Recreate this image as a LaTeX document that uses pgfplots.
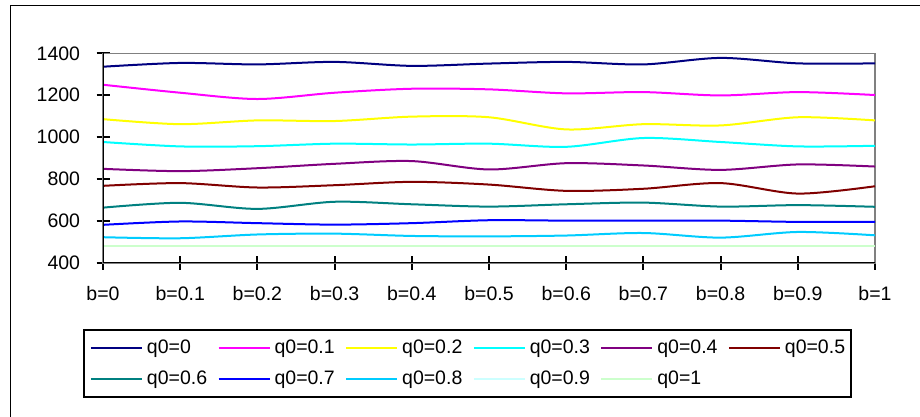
\documentclass[border=0pt]{standalone}
\usepackage{fontspec}
\setmainfont{Liberation Sans}
\usepackage{pgfplots}
\usepackage{pgfplotstable}
\pgfplotsset{compat=1.18}
\definecolor{c0}{HTML}{000080}
\definecolor{c1}{HTML}{FF00FF}
\definecolor{c2}{HTML}{FFFF00}
\definecolor{c3}{HTML}{00FFFF}
\definecolor{c4}{HTML}{800080}
\definecolor{c5}{HTML}{800000}
\definecolor{c6}{HTML}{008080}
\definecolor{c7}{HTML}{0000FF}
\definecolor{c8}{HTML}{00CCFF}
\definecolor{c9}{HTML}{CCFFFF}
\definecolor{c10}{HTML}{CCFFCC}
\definecolor{axgray}{HTML}{808080}
\pgfplotstableread{
x  a    b    c    d   e   f   g   h   i   j   k
0  1336 1250 1086 977 849 768 664 582 523 480 480
1  1354 1212 1062 956 838 781 687 598 518 480 480
2  1347 1182 1080 957 852 760 658 590 536 480 480
3  1359 1212 1077 969 873 771 692 583 540 480 480
4  1340 1231 1098 965 886 787 680 590 529 480 480
5  1351 1228 1095 969 846 774 669 604 527 480 480
6  1359 1209 1037 954 876 744 680 602 531 480 480
7  1347 1215 1062 996 865 754 688 602 543 480 480
8  1378 1199 1056 977 844 781 669 602 521 480 480
9  1352 1215 1095 956 870 731 676 596 548 480 480
10 1352 1201 1080 959 860 766 668 596 532 480 480
}\data
\begin{document}
\begin{tikzpicture}
\useasboundingbox (0,0) rectangle (460pt,208.5pt);
\draw[line width=0.75pt] (5.25pt,0) -- (5.25pt,205.75pt) -- (460pt,205.75pt);
\begin{axis}[
  at={(51.5pt,77pt)}, anchor=south west,
  scale only axis, width=386pt, height=104.85pt,
  xmin=0, xmax=10, ymin=400, ymax=1400,
  xtick={0,...,10},
  xticklabels={b=0,b=0.1,b=0.2,b=0.3,b=0.4,b=0.5,b=0.6,b=0.7,b=0.8,b=0.9,b=1},
  ytick={400,600,...,1400},
  tick pos=left, tick align=center, major tick length=6.5pt,
  axis line style={draw=axgray, line width=0.75pt},
  tick style={black, line width=1pt},
  font=\fontsize{9.75}{11.7}\selectfont,
  /pgf/number format/assume math mode=true,
  /pgf/number format/1000 sep={},
  yticklabel style={inner sep=0pt}, yticklabel shift=8pt,
  xticklabel style={inner sep=0pt}, xticklabel shift=8pt,
  legend columns=6,
  legend cell align=left,
  legend image code/.code={\draw[#1] (0pt,0pt) -- (25.5pt,0pt);},
  legend style={at={(axis description cs:-0.02591,-0.315)}, anchor=north west,
    draw=black, line width=1pt, inner xsep=3pt, inner ysep=4.5pt,
    row sep=6.5pt, column sep=0pt,
    /tikz/every odd column/.append style={column sep=2pt},
    /tikz/every even column/.append style={column sep=5.2pt},
    nodes={inner sep=0pt, text height=7pt, text depth=2pt, anchor=west},
    font=\fontsize{9.75}{11.7}\selectfont},
  every axis plot/.append style={line width=1pt, smooth, no marks},
]
\addplot[c0] table[x=x,y=a]{\data}; \addlegendentry{q0=0}
\addplot[c1] table[x=x,y=b]{\data}; \addlegendentry{q0=0.1}
\addplot[c2] table[x=x,y=c]{\data}; \addlegendentry{q0=0.2}
\addplot[c3] table[x=x,y=d]{\data}; \addlegendentry{q0=0.3}
\addplot[c4] table[x=x,y=e]{\data}; \addlegendentry{q0=0.4}
\addplot[c5] table[x=x,y=f]{\data}; \addlegendentry{q0=0.5}
\addplot[c6] table[x=x,y=g]{\data}; \addlegendentry{q0=0.6}
\addplot[c7] table[x=x,y=h]{\data}; \addlegendentry{q0=0.7}
\addplot[c8] table[x=x,y=i]{\data}; \addlegendentry{q0=0.8}
\addplot[c9] table[x=x,y=j]{\data}; \addlegendentry{q0=0.9}
\addplot[c10] table[x=x,y=k]{\data}; \addlegendentry{q0=1}
\draw[black, line width=1pt] (rel axis cs:0,1) -- (rel axis cs:0,0) -- (rel axis cs:1,0);
\end{axis}
\end{tikzpicture}
\end{document}
